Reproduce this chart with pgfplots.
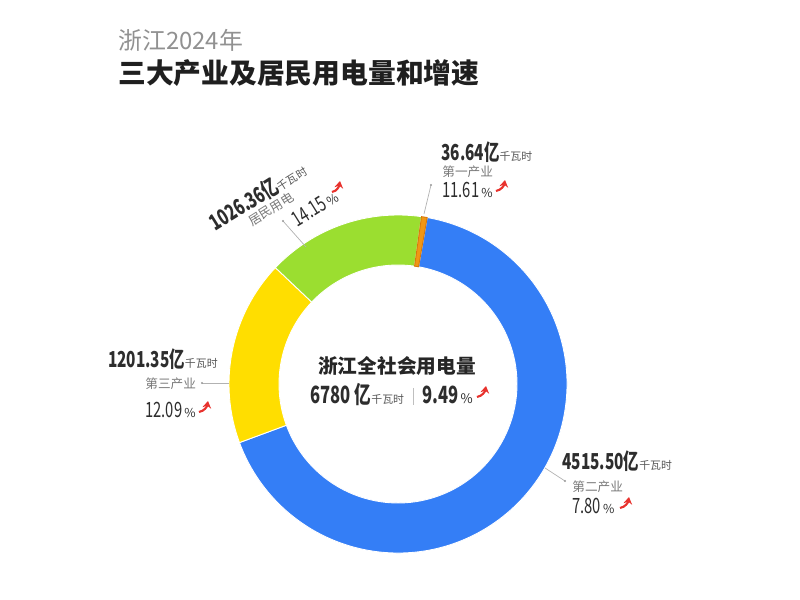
\documentclass[border=0pt]{standalone}
\usepackage{pgfplots}
\pgfplotsset{compat=1.18}
\usetikzlibrary{arrows.meta}
\usepackage{fontspec}
\setmainfont{Noto Sans CJK SC}
\newfontfamily\numfont[FakeStretch=0.7]{Noto Sans CJK SC}
\definecolor{cBlue}{RGB}{52,126,246}
\definecolor{cYellow}{RGB}{255,222,0}
\definecolor{cGreen}{RGB}{155,222,48}
\definecolor{cOrange}{RGB}{240,150,20}
\definecolor{cOrangeD}{RGB}{215,120,10}
\definecolor{titlegray}{RGB}{145,145,145}
\definecolor{txt}{RGB}{45,45,45}
\definecolor{unitgray}{RGB}{85,85,85}
\definecolor{catgray}{RGB}{120,120,120}
\definecolor{arr}{RGB}{232,50,45}
% data (亿千瓦时)
\def\vA{36.64}   % 第一产业
\def\vB{4515.50} % 第二产业
\def\vC{1201.35} % 第三产业
\def\vD{1026.36} % 居民用电
\pgfmathsetmacro\vT{\vA+\vB+\vC+\vD}
\pgfmathsetmacro\aS{82}
\pgfmathsetmacro\aA{\aS-360*(\vA/\vT)}
\pgfmathsetmacro\aB{\aA-360*(\vB/\vT)}
\pgfmathsetmacro\aC{\aB-360*(\vC/\vT)}
\pgfmathsetmacro\aD{\aC-360*(\vD/\vT)}
\def\Ro{3.38cm}
\def\Ri{2.38cm}
\newcommand\sector[4]{%
  \fill[#1,draw=#4,line width=0.5pt] ([shift={(#2:\Ro)}]axis cs:398,384) arc[start angle=#2,end angle=#3,radius=\Ro] -- ([shift={(#3:\Ri)}]axis cs:398,384) arc[start angle=#3,end angle=#2,radius=\Ri] -- cycle;}
\newcommand\val[1]{{\numfont\bfseries\fontsize{12.5}{14}\selectfont #1}}
\newcommand\unit{{\fontsize{6.2}{7}\selectfont\color{unitgray}千瓦时}}
\newcommand\pct[1]{{\numfont\fontsize{12}{13}\selectfont #1}{\fontsize{7}{8}\selectfont\,\%}}
\newcommand\cat[1]{{\fontsize{7.2}{8}\selectfont\color{catgray}#1}}
\newcommand\redarr[4]{\draw[arr,line width=1.2pt,-{Stealth[length=4pt,width=5pt]}] (axis cs:#1,#2) to[out=10,in=-100] (axis cs:#3,#4);}
\begin{document}
\begin{tikzpicture}
\begin{axis}[hide axis, scale only axis, width=16cm, height=12cm,
  xmin=0, xmax=800, ymin=0, ymax=600, y dir=reverse, clip=false]
\path (axis cs:0,0) (axis cs:800,600);
% donut
\sector{cBlue}{\aA}{\aB}{white}
\sector{cYellow}{\aB}{\aC}{white}
\sector{cGreen}{\aC}{\aD}{white}
\sector{cOrange}{\aS}{\aA}{cOrangeD}
% titles
\node[anchor=west,inner sep=0,text=titlegray,font=\fontsize{13.6}{15}\selectfont] at (axis cs:118,40) {浙江2024年};
\node[anchor=west,inner sep=0,text=black!88,font=\fontsize{15.8}{18}\selectfont\bfseries] at (axis cs:118,73) {三大产业及居民用电量和增速};
% center
\node[anchor=center,inner sep=0,text=black!85,font=\fontsize{11.2}{13}\selectfont\bfseries] at (axis cs:397,366) {浙江全社会用电量};
\node[anchor=base west,inner sep=0,text=txt] at (axis cs:310,404) {{\numfont\bfseries\fontsize{13.5}{15}\selectfont 6780\,亿}\unit};
\draw[black!25,line width=0.5pt] (axis cs:413,388) -- (axis cs:413,405);
\node[anchor=base west,inner sep=0,text=txt] at (axis cs:422,404) {{\numfont\bfseries\fontsize{13.5}{15}\selectfont 9.49}{\fontsize{7.5}{8}\selectfont\,\%}};
% leader lines
\draw[black!30,line width=0.4pt] (axis cs:424,214) -- (axis cs:431,185);
\fill[black!40] (axis cs:431,185) circle[radius=0.7pt];
\draw[black!30,line width=0.4pt] (axis cs:545,468) -- (axis cs:565,481);
\fill[black!40] (axis cs:565,481) circle[radius=0.7pt];
\draw[black!30,line width=0.4pt] (axis cs:229,383) -- (axis cs:202,383);
\fill[black!40] (axis cs:202,383) circle[radius=0.7pt];
\draw[black!30,line width=0.4pt] (axis cs:306,247) -- (axis cs:283,221);
\fill[black!40] (axis cs:283,221) circle[radius=0.7pt];
% 第一产业
\node[anchor=base west,inner sep=0,text=txt] at (axis cs:441,161) {\val{36.64亿}\unit};
\node[anchor=base west,inner sep=0] at (axis cs:442,177) {\cat{第一产业}};
\node[anchor=base west,inner sep=0,text=txt] at (axis cs:442,198) {\pct{11.61}};
% 第二产业
\node[anchor=base west,inner sep=0,text=txt] at (axis cs:562,470) {\val{4515.50亿}\unit};
\node[anchor=base west,inner sep=0] at (axis cs:572,492) {\cat{第二产业}};
\node[anchor=base west,inner sep=0,text=txt] at (axis cs:572,514) {\pct{7.80}};
% 第三产业
\node[anchor=base east,inner sep=0,text=txt] at (axis cs:218,368) {\val{1201.35亿}\unit};
\node[anchor=base west,inner sep=0] at (axis cs:145,389) {\cat{第三产业}};
\node[anchor=base west,inner sep=0,text=txt] at (axis cs:145,418) {\pct{12.09}};
% 居民用电 (rotated)
\node[anchor=base west,inner sep=0,rotate=32,text=txt] at (axis cs:215,232) {\val{1026.36亿}\unit};
\node[anchor=center,inner sep=0,rotate=32] at (axis cs:271,209) {\cat{居民用电}};
\node[anchor=center,inner sep=0,rotate=32,text=txt] at (axis cs:315,208) {\pct{14.15}};
% red arrows
\redarr{496}{191}{505}{180}
\redarr{620}{508}{629}{497}
\redarr{199}{412}{208}{401}
\redarr{332}{192}{340}{181}
\redarr{477}{397}{486}{386}
\end{axis}
\end{tikzpicture}
\end{document}
